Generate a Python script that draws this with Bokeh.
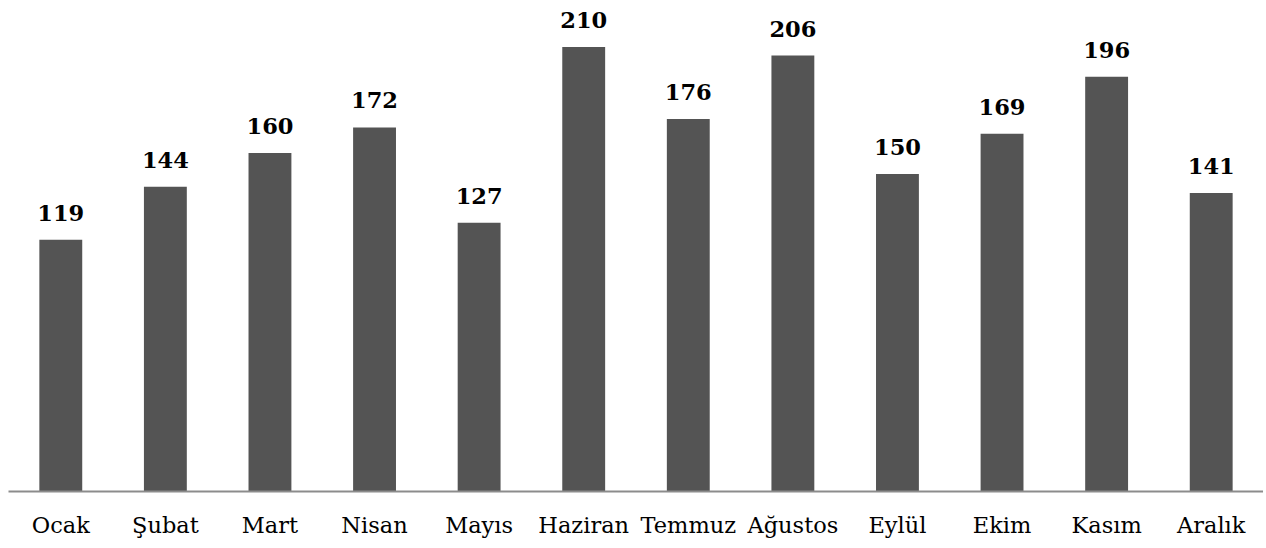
from bokeh.plotting import figure
from bokeh.models import ColumnDataSource, Range1d, FactorRange
from bokeh.embed import file_html
from bokeh.resources import INLINE
from bokeh.core.properties import value

months = ["Ocak", "Şubat", "Mart", "Nisan", "Mayıs", "Haziran", "Temmuz",
          "Ağustos", "Eylül", "Ekim", "Kasım", "Aralık"]
counts = [119, 144, 160, 172, 127, 210, 176, 206, 150, 169, 196, 141]
labels = [str(v) for v in counts]

src = ColumnDataSource(dict(x=months, y=counts, label=labels))

p = figure(x_range=FactorRange(*months, range_padding=0), y_range=Range1d(0, 232),
           width=1263, height=540, output_backend="svg", toolbar_location=None,
           min_border_left=8, min_border_right=0, min_border_top=0, min_border_bottom=0)

p.vbar(x="x", top="y", width=0.41, source=src, fill_color="#545454", line_color=None)
p.text(x="x", y="y", text="label", source=src, text_align="center", text_baseline="bottom",
       y_offset=-19, text_font=value("DejaVu Serif"), text_font_style="bold",
       text_font_size="22.5px", text_color="#000000")

p.yaxis.visible = False
p.grid.visible = False
p.outline_line_color = None
p.xaxis.axis_line_color = "#8c8c8c"
p.xaxis.axis_line_width = 2
p.xaxis.major_tick_line_color = None
p.xaxis.minor_tick_line_color = None
p.xaxis.major_label_standoff = 14
p.xaxis.major_label_text_font = "DejaVu Serif, serif"
p.xaxis.major_label_text_font_size = "22.5px"
p.xaxis.major_label_text_color = "#000000"

open("out.html", "w").write(file_html(p, INLINE))
